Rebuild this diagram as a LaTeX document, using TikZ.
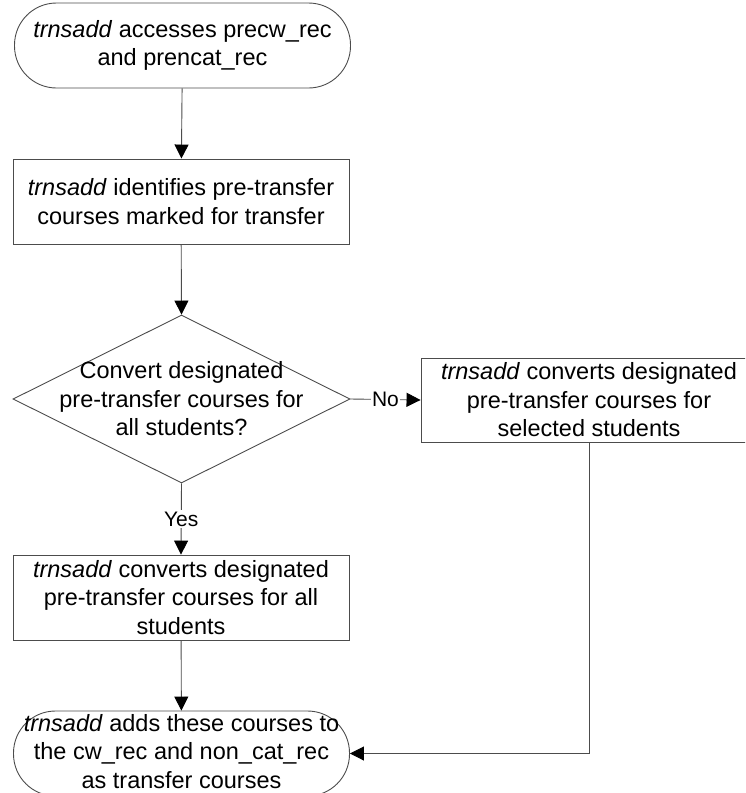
\documentclass[tikz,border=0pt]{standalone}
\usepackage{fontspec}
\setmainfont{Liberation Sans}
\usetikzlibrary{arrows.meta,shapes.geometric}
\begin{document}
\begin{tikzpicture}[x=1pt,y=-1pt,
  txt/.style={font=\fontsize{23.5}{28.5}\selectfont, align=center},
  shapeline/.style={draw=black!70, line width=0.9pt},
  flowbox/.style={shapeline, txt, inner sep=0pt, minimum width=336pt, minimum height=85pt},
  terminal/.style={flowbox, rounded corners=42pt},
  decision/.style={shapeline, diamond, inner sep=0pt, minimum width=337pt, minimum height=168pt},
  conn/.style={draw=black!70, line width=0.9pt, -{Triangle[length=14pt,width=14pt,black]}},
  lbl/.style={fill=white, inner sep=1.5pt, font=\fontsize{21}{25}\selectfont}
]
\useasboundingbox (0,0) rectangle (745,793);
\clip (0,0) rectangle (745,793);

% process steps
\node[terminal] (t1) at (182.5,45.5) {\textit{trnsadd} accesses precw\_rec\\and prencat\_rec};
\node[flowbox] (b2) at (181,201.5) {\textit{trnsadd} identifies pre-transfer\\courses marked for transfer};
\node[decision] (d) at (181.5,399) {};
\node[txt] (dq) at (d.center) {Convert designated\\pre-transfer courses for\\all students?};
\node[flowbox, minimum height=84pt] (b3) at (589,400) {\textit{trnsadd} converts designated\\pre-transfer courses for\\selected students};
\node[flowbox] (b4) at (181,597.5) {\textit{trnsadd} converts designated\\pre-transfer courses for all\\students};
\node[terminal] (t5) at (181.5,753.5) {};
\node[txt] (t5txt) at ([yshift=2pt]t5.center) {\textit{trnsadd} adds these courses to\\the cw\_rec and non\_cat\_rec\\as transfer courses};

% connectors
\draw[conn] (t1) -- (b2);
\draw[conn] (b2) -- (d.north);
\draw[conn] (d.east) -- node[lbl] {No} (b3.west);
\draw[conn] (d.south) -- node[lbl] {Yes} (b4.north);
\draw[conn] (b4) -- (t5);
\draw[conn] (b3.south) |- (t5.east);
\end{tikzpicture}
\end{document}
